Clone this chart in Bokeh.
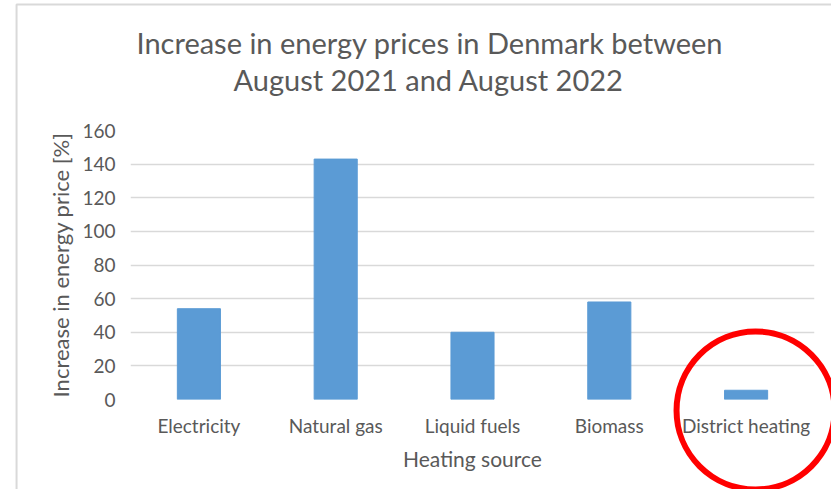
from bokeh.plotting import figure
from bokeh.models import Title, FactorRange, Range1d, SingleIntervalTicker, ColumnDataSource
from bokeh.embed import file_html
from bokeh.resources import INLINE

categories = ["Electricity", "Natural gas", "Liquid fuels", "Biomass", "District heating"]
increase_pct = [54, 143, 40, 58, 5.5]
title_lines = ["Increase in energy prices in Denmark between", "August 2021 and August 2022"]
x_label = "Heating source"
y_label = "Increase in energy price [%]"

FONT = "Lato"
TEXT = "#595959"
GRID = "#d9d9d9"
BAR = "#5b9bd5"

src = ColumnDataSource(dict(cat=categories, val=increase_pct))

p = figure(x_range=FactorRange(*categories), y_range=Range1d(0, 160),
           width=831, height=489, output_backend="svg", toolbar_location=None,
           min_border_left=130, min_border_right=17, min_border_top=130, min_border_bottom=90)

p.vbar(x="cat", top="val", width=0.315, source=src, color=BAR)

# spacer between the frame and the two title lines
p.add_layout(Title(text=" ", text_font_size="1px", standoff=31), "above")
p.add_layout(Title(text=title_lines[1], align="left", text_font=FONT, text_font_size="29px",
                   text_color=TEXT, text_font_style="normal", offset=103, standoff=0), "above")
p.add_layout(Title(text=title_lines[0], align="left", text_font=FONT, text_font_size="29px",
                   text_color=TEXT, text_font_style="normal", offset=6, standoff=0), "above")

p.outline_line_color = None
p.xgrid.grid_line_color = None
p.ygrid.grid_line_color = GRID
p.ygrid.grid_line_width = 1.5
p.yaxis.ticker = SingleIntervalTicker(interval=20)

for ax in (p.xaxis[0], p.yaxis[0]):
    ax.axis_line_color = None
    ax.major_tick_line_color = None
    ax.minor_tick_line_color = None
    ax.major_tick_out = 0
    ax.major_tick_in = 0
    ax.minor_tick_out = 0
    ax.major_label_text_font = FONT
    ax.major_label_text_font_size = "19px"
    ax.major_label_text_color = TEXT
    ax.axis_label_text_font = FONT
    ax.axis_label_text_color = TEXT
    ax.axis_label_text_font_style = "normal"

p.xaxis.axis_label = x_label
p.yaxis.axis_label = y_label
p.xaxis.axis_label_text_font_size = "21px"
p.yaxis.axis_label_text_font_size = "22px"
p.xaxis.major_label_standoff = 14
p.yaxis.major_label_standoff = 15
p.xaxis.axis_label_standoff = 6
p.yaxis.axis_label_standoff = 5

# red highlight ring around "District heating" (synthetic x: category index 4 centre = 4.5)
ring_x = 4.569
ring_y = -6.5
p.circle(x=[ring_x], y=[ring_y], radius=79, radius_units="screen", fill_color=None,
         line_color="#ff0000", line_width=6, level="overlay")

# outer chart frame
p.quad(left=[-0.833], right=[5.161], top=[234.9], bottom=[-80], fill_color=None,
       line_color=GRID, line_width=2, level="overlay")

open("out.html", "w").write(file_html(p, INLINE))
